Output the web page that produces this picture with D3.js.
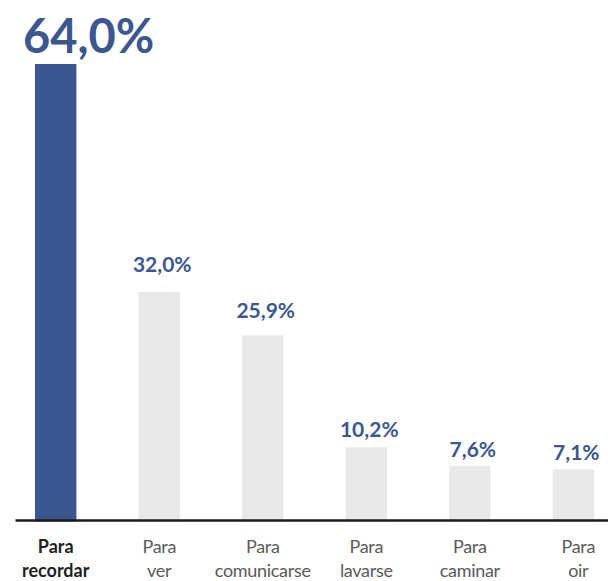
<!DOCTYPE html>
<html>
<head>
<meta charset="utf-8">
<script src="https://cdn.jsdelivr.net/npm/d3@7/dist/d3.min.js"></script>
<style>
  html, body { margin: 0; padding: 0; background: #ffffff; }
  svg { display: block; }
</style>
</head>
<body>
<svg id="chart" width="608" height="581"></svg>
<script>
// ---- data ----
const categoriesLine1 = ["Para", "Para", "Para", "Para", "Para", "Para"];
const categoriesLine2 = ["recordar", "ver", "comunicarse", "lavarse", "caminar", "oir"];
const values = [64.0, 32.0, 25.9, 10.2, 7.6, 7.1];
const valueLabels = ["64,0%", "32,0%", "25,9%", "10,2%", "7,6%", "7,1%"];
const highlighted = [true, false, false, false, false, false];

// ---- layout ----
const W = 608, H = 581;
const baseY = 520, topY = 64;
const svg = d3.select("#chart");
const FONT = "Lato, 'Open Sans', 'DejaVu Sans', sans-serif";
const BLUE = "#3c578f";
const GRAY = "#e8e8e8";

const keys = values.map((d, i) => i);
const x = d3.scaleBand().domain(keys).range([35, 594]).paddingInner(0.6).paddingOuter(0);
const y = d3.scaleLinear().domain([0, 64]).range([baseY, topY]);

// bars
svg.selectAll("rect.bar").data(keys).join("rect")
  .attr("class", "bar")
  .attr("x", i => x(i))
  .attr("y", i => y(values[i]))
  .attr("width", x.bandwidth())
  .attr("height", i => y(0) - y(values[i]) + 1.5)
  .attr("fill", i => highlighted[i] ? BLUE : GRAY);

// axis baseline
const xAxis = d3.axisBottom(d3.scaleLinear().domain([0, 1]).range([15, W])).ticks(0).tickSize(0).tickFormat("");
const gAx = svg.append("g").attr("transform", `translate(0,${baseY})`).call(xAxis);
gAx.select(".domain").attr("stroke", "#1e1a18").attr("stroke-width", 2.6);

// value labels
svg.selectAll("text.val").data(keys).join("text")
  .attr("class", "val")
  .attr("x", i => i === 0 ? x(i) - 12 : x(i) + x.bandwidth() / 2 + 3)
  .attr("y", i => {
    const h = y(0) - y(values[i]);
    return i === 0 ? y(values[i]) - 11 : y(values[i]) - (6 + 0.06 * h);
  })
  .attr("text-anchor", i => i === 0 ? "start" : "middle")
  .attr("font-family", FONT)
  .attr("font-weight", 700)
  .attr("font-size", i => i === 0 ? 47 : 21)
  .attr("fill", BLUE)
  .text(i => valueLabels[i]);

// category labels
const cat = svg.selectAll("text.cat").data(keys).join("text")
  .attr("class", "cat")
  .attr("x", i => x(i) + x.bandwidth() / 2 + (i === 5 ? 5 : 0))
  .attr("y", 553)
  .attr("text-anchor", "middle")
  .attr("font-family", FONT)
  .attr("font-size", 18)
  .attr("letter-spacing", i => highlighted[i] ? 0 : -0.3)
  .attr("font-weight", i => highlighted[i] ? 700 : 400)
  .attr("fill", i => highlighted[i] ? "#222222" : "#5a5a5a");
cat.append("tspan").attr("x", function(i){ return d3.select(this.parentNode).attr("x"); }).text(i => categoriesLine1[i]);
cat.append("tspan").attr("x", function(i){ return d3.select(this.parentNode).attr("x"); }).attr("dy", 24).text(i => categoriesLine2[i]);
</script>
</body>
</html>
